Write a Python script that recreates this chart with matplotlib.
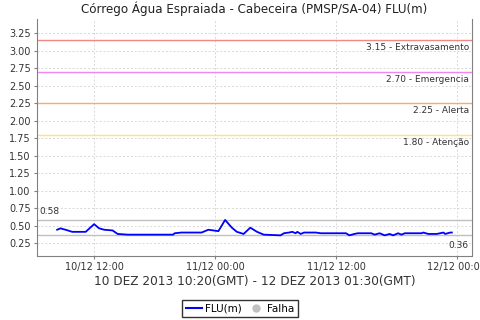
import matplotlib
matplotlib.use("Agg")
import matplotlib.pyplot as plt
import matplotlib.dates as mdates
from matplotlib.lines import Line2D
import pandas as pd

title = "Córrego Água Espraiada - Cabeceira (PMSP/SA-04) FLU(m)"
xlabel = "10 DEZ 2013 10:20(GMT) - 12 DEZ 2013 01:30(GMT)"

times = [
    "2013-12-10 08:20", "2013-12-10 08:40", "2013-12-10 09:10", "2013-12-10 09:50",
    "2013-12-10 11:10", "2013-12-10 12:00", "2013-12-10 12:30", "2013-12-10 13:00",
    "2013-12-10 13:50", "2013-12-10 14:20", "2013-12-10 15:20", "2013-12-10 19:50",
    "2013-12-10 20:00", "2013-12-10 20:40", "2013-12-10 22:40", "2013-12-10 23:20",
    "2013-12-11 00:20", "2013-12-11 01:00", "2013-12-11 01:40", "2013-12-11 02:10",
    "2013-12-11 02:50", "2013-12-11 03:30", "2013-12-11 04:10", "2013-12-11 04:50",
    "2013-12-11 06:30", "2013-12-11 06:50", "2013-12-11 07:20", "2013-12-11 07:40",
    "2013-12-11 08:00", "2013-12-11 08:10", "2013-12-11 08:30", "2013-12-11 08:50",
    "2013-12-11 10:00", "2013-12-11 10:30", "2013-12-11 13:00", "2013-12-11 13:20",
    "2013-12-11 13:50", "2013-12-11 14:10", "2013-12-11 15:30", "2013-12-11 15:50",
    "2013-12-11 16:20", "2013-12-11 16:50", "2013-12-11 17:20", "2013-12-11 17:40",
    "2013-12-11 18:10", "2013-12-11 18:30", "2013-12-11 18:50", "2013-12-11 19:00",
    "2013-12-11 20:30", "2013-12-11 20:40", "2013-12-11 21:10", "2013-12-11 22:00",
    "2013-12-11 22:40", "2013-12-11 22:50", "2013-12-11 23:20", "2013-12-11 23:30",
]
flu = [
    0.44, 0.46, 0.44, 0.41,
    0.41, 0.52, 0.46, 0.44,
    0.43, 0.38, 0.37, 0.37,
    0.39, 0.40, 0.40, 0.44,
    0.42, 0.58, 0.47, 0.41,
    0.38, 0.47, 0.41, 0.37,
    0.36, 0.39, 0.40, 0.41,
    0.39, 0.41, 0.38, 0.40,
    0.40, 0.39, 0.39, 0.36,
    0.38, 0.39, 0.39, 0.37,
    0.39, 0.36, 0.38, 0.36,
    0.39, 0.37, 0.39, 0.39,
    0.39, 0.40, 0.38, 0.38,
    0.40, 0.38, 0.40, 0.40,
]

thresholds = [3.15, 2.70, 2.25, 1.80]
threshold_names = ["Extravasamento", "Emergencia", "Alerta", "Atenção"]
threshold_colors = ["#F08888", "#EE88EE", "#FFA860", "#FFE868"]

y_ticks = [0.25, 0.50, 0.75, 1.00, 1.25, 1.50, 1.75, 2.00, 2.25, 2.50, 2.75, 3.00, 3.25]
x_ticks = ["2013-12-10 12:00", "2013-12-11 00:00", "2013-12-11 12:00", "2013-12-12 00:00"]
x_range = ["2013-12-10 06:20", "2013-12-12 01:30"]
y_range = [0.065, 3.45]

t = pd.to_datetime(times)
vmax = max(flu)
vmin = min(flu)

fig = plt.figure(figsize=(4.8, 3.2), dpi=100)
ax = fig.add_axes([37/480, 1 - 256/320, (472-37)/480, (256-19)/320])

ax.set_xlim(pd.to_datetime(x_range))
ax.set_ylim(y_range)
ax.set_yticks(y_ticks)
ax.set_yticklabels([f"{v:.2f}" for v in y_ticks])
ax.set_xticks(pd.to_datetime(x_ticks))
ax.xaxis.set_major_formatter(mdates.DateFormatter("%d/%m %H:%M"))

ax.grid(True, color="#D8D8D8", linestyle=(0, (2, 2)), linewidth=0.7)
ax.set_axisbelow(True)

ytr = ax.get_yaxis_transform()
for th, name, col in zip(thresholds, threshold_names, threshold_colors):
    ax.axhline(th, color=col, linewidth=1.0, zorder=2)
    ax.annotate(f"{th:.2f} - {name}", xy=(0.993, th), xycoords=ytr,
                xytext=(0, -2.5), textcoords="offset points",
                ha="right", va="top", fontsize=6.5, color="#333333")

ax.axhline(vmax, color="#C0C0C0", linewidth=1.0, zorder=2)
ax.axhline(vmin, color="#C0C0C0", linewidth=1.0, zorder=2)
ax.annotate(f"{vmax:.2f}", xy=(0.006, vmax), xycoords=ytr,
            xytext=(0, 3), textcoords="offset points",
            ha="left", va="bottom", fontsize=6.5, color="#333333")
ax.annotate(f"{vmin:.2f}", xy=(0.993, vmin), xycoords=ytr,
            xytext=(0, -4), textcoords="offset points",
            ha="right", va="top", fontsize=6.5, color="#333333")

ax.plot(t, flu, color="#0000FF", linewidth=1.3, zorder=3)

for s in ["left", "bottom", "right"]:
    ax.spines[s].set_color("#808080")
ax.spines["top"].set_visible(False)
ax.tick_params(axis="both", colors="#808080", labelcolor="#333333", labelsize=7,
               length=2, width=0.8, pad=2.5)

ax.set_title(title, fontsize=8.6, color="#222222", pad=4)
ax.set_xlabel(xlabel, fontsize=8.7, color="#333333", labelpad=2)

handles = [Line2D([0], [0], color="#0000FF", linewidth=1.5),
           Line2D([0], [0], color="#C0C0C0", marker="o", linestyle="none", markersize=5)]
leg = fig.legend(handles, ["FLU(m)", "Falha"], loc="center", bbox_to_anchor=(240/480, 1 - 308.5/320),
                 ncol=2, fontsize=7.5, frameon=True, fancybox=False, edgecolor="black",
                 handlelength=1.6, handletextpad=0.3, columnspacing=0.5, borderpad=0.3)
leg.get_frame().set_linewidth(1.0)

fig.savefig("out.png", dpi=100)
